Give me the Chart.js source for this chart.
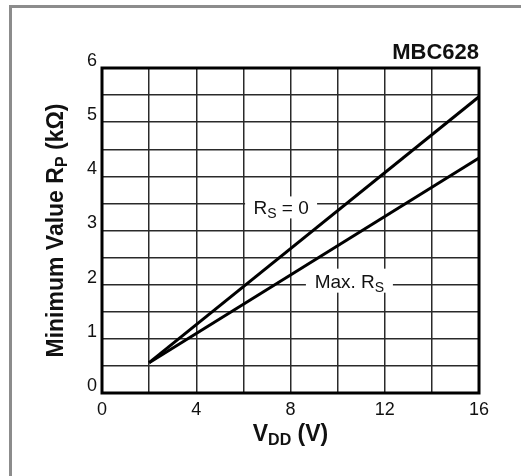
<!DOCTYPE html>
<html>
<head>
<meta charset="utf-8">
<script src="https://cdn.jsdelivr.net/npm/chart.js@4"></script>
<style>
  body { margin: 0; background: #fff; }
  #wrap { position: relative; width: 521px; height: 476px; overflow: hidden; }
  #frame { position: absolute; left: 9px; top: 5px; width: 600px; height: 600px;
           border-left: 3px solid #8c8c8c; border-top: 3px solid #8c8c8c; }
  canvas { position: absolute; left: 0; top: 0; }
</style>
</head>
<body>
<div id="wrap">
  <div id="frame"></div>
  <canvas id="rpChart" width="521" height="476"></canvas>
</div>
<script>
// data
const vddPoints = [2, 16];           // V_DD (V)
const rsZero = [0.56, 5.47];         // R_S = 0 curve, kOhm
const rsMax = [0.56, 4.34];          // Max. R_S curve, kOhm
const xTickLabels = [0, 4, 8, 12, 16];
const yTickLabels = [0, 1, 2, 3, 4, 5, 6];

const FONT = "Arial, 'Liberation Sans', Helvetica, sans-serif";

// draw text with subscript pieces, parts = [[text, isSub], ...]
function drawRich(ctx, parts, x, y, align, size, subSize, weight, subDrop) {
  let total = 0;
  parts.forEach(p => {
    ctx.font = weight + " " + (p[1] ? subSize : size) + "px " + FONT;
    total += ctx.measureText(p[0]).width;
  });
  let cx = align === "center" ? x - total / 2 : align === "right" ? x - total : x;
  ctx.textAlign = "left";
  ctx.textBaseline = "alphabetic";
  parts.forEach(p => {
    ctx.font = weight + " " + (p[1] ? subSize : size) + "px " + FONT;
    ctx.fillText(p[0], cx, y + (p[1] ? subDrop : 0));
    cx += ctx.measureText(p[0]).width;
  });
  return total;
}

// curve labels sitting on white boxes over the grid
function curveLabel(ctx, chart, xv, yv, dy, parts, box) {
  const px = chart.scales.x.getPixelForValue(xv);
  const py = chart.scales.y.getPixelForValue(yv);
  ctx.fillStyle = "#fff";
  ctx.fillRect(px - box[0] / 2, py + dy - box[1] / 2, box[0], box[1]);
  ctx.fillStyle = "#111";
  drawRich(ctx, parts, px, py + dy + 7, "center", 19, 14, "normal", 4);
}

const decorPlugin = {
  id: "decor",
  beforeDatasetsDraw(chart) {
    const ctx = chart.ctx;
    ctx.save();
    curveLabel(ctx, chart, 7.6, 3.5, 4, [["R", false], ["S", true], [" = 0", false]], [72, 22]);
    curveLabel(ctx, chart, 10.5, 2, -4, [["Max. R", false], ["S", true]], [87, 24]);
    ctx.restore();
  },
  afterDraw(chart) {
    const ctx = chart.ctx;
    const a = chart.chartArea;
    ctx.save();
    // heavy plot frame
    ctx.strokeStyle = "#000";
    ctx.lineWidth = 3;
    ctx.strokeRect(a.left, a.top, a.right - a.left, a.bottom - a.top);

    ctx.fillStyle = "#111";
    // figure code
    ctx.font = "bold 22px " + FONT;
    ctx.textAlign = "right";
    ctx.textBaseline = "alphabetic";
    ctx.fillText("MBC628", a.right, 59);

    // x title
    drawRich(ctx, [["V", false], ["DD", true], [" (V)", false]],
      (a.left + a.right) / 2, 441, "center", 23, 16, "bold", 4);

    // y title, rotated
    ctx.translate(63, (a.top + a.bottom) / 2);
    ctx.rotate(-Math.PI / 2);
    drawRich(ctx, [["Minimum Value R", false], ["P", true], [" (k\u03A9)", false]],
      0, 0, "center", 23, 16, "bold", 4);
    ctx.restore();
  }
};

new Chart(document.getElementById("rpChart"), {
  type: "scatter",
  data: {
    datasets: [
      {
        label: "RS = 0",
        data: vddPoints.map((v, i) => ({ x: v, y: rsZero[i] })),
        showLine: true,
        borderColor: "#000",
        borderWidth: 3,
        pointRadius: 0
      },
      {
        label: "Max. RS",
        data: vddPoints.map((v, i) => ({ x: v, y: rsMax[i] })),
        showLine: true,
        borderColor: "#000",
        borderWidth: 3,
        pointRadius: 0
      }
    ]
  },
  options: {
    responsive: false,
    animation: false,
    layout: { padding: { left: 0, top: 68, right: 42, bottom: 0 } },
    plugins: {
      legend: { display: false },
      tooltip: { enabled: false }
    },
    scales: {
      x: {
        type: "linear",
        min: 0,
        max: 16,
        afterFit: scale => { scale.height = 83; },
        border: { display: false },
        grid: { color: "#2a2a2a", lineWidth: 1.5, drawTicks: false },
        ticks: {
          stepSize: 2,
          padding: 6,
          color: "#111",
          font: { family: FONT, size: 18 },
          callback: v => (xTickLabels.includes(v) ? String(v) : "")
        }
      },
      y: {
        type: "linear",
        min: 0,
        max: 6,
        afterFit: scale => { scale.width = 102; },
        border: { display: false },
        grid: { color: "#2a2a2a", lineWidth: 1.5, drawTicks: false },
        ticks: {
          stepSize: 0.5,
          padding: 5,
          labelOffset: -7,
          color: "#111",
          font: { family: FONT, size: 18 },
          callback: v => (yTickLabels.includes(v) ? String(v) : "")
        }
      }
    }
  },
  plugins: [decorPlugin]
});
</script>
</body>
</html>
